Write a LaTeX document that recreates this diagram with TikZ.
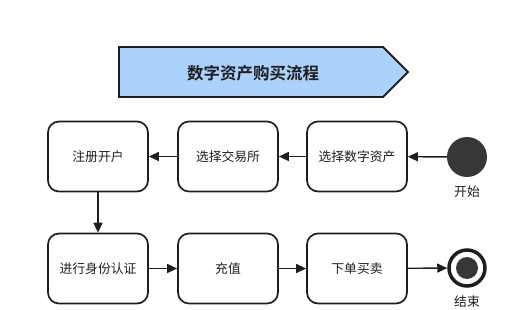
\documentclass[tikz,border=0pt]{standalone}
\usepackage{fontspec}
\setmainfont{Noto Sans CJK SC}[BoldFont={Noto Sans CJK SC Bold}]
\usetikzlibrary{arrows.meta}
\definecolor{bannerfill}{RGB}{170,210,252}
\definecolor{dk}{RGB}{30,30,30}
\definecolor{dot}{RGB}{55,55,55}
\tikzset{
  stepbox/.style={draw=dk, line width=1.7pt, rounded corners=11pt, minimum width=100pt, minimum height=70pt, inner sep=0pt, font=\fontsize{12.8}{14}\selectfont, text=dk},
  flow/.style={draw=dk, line width=1.4pt, -{Triangle[length=10pt,width=9pt]}},
  lbl/.style={font=\fontsize{12.8}{14}\selectfont, text=dk},
}
\begin{document}
\begin{tikzpicture}[x=1pt,y=-1pt]
\useasboundingbox (0,0) rectangle (514,310);
% banner
\draw[draw=dk, line width=1.8pt, fill=bannerfill] (119,47) -- (383,47) -- (408,72) -- (383,97) -- (119,97) -- cycle;
\node[font=\fontsize{16.5}{18}\bfseries, text=dk] (title) at (253,73) {数字资产购买流程};
% top row
\node[stepbox] (reg) at (98,156.5) {注册开户};
\node[stepbox] (exch) at (228,156.5) {选择交易所};
\node[stepbox] (asset) at (357,156.5) {选择数字资产};
\node[circle, fill=dot, minimum size=40pt, inner sep=0pt] (start) at (467,157) {};
\node[lbl] (startl) at (467,192) {开始};
% bottom row
\node[stepbox] (kyc) at (98,268.5) {进行身份认证};
\node[stepbox] (dep) at (228,268.5) {充值};
\node[stepbox] (trade) at (357,268.5) {下单买卖};
\node[circle, draw=dk, line width=3.5pt, fill=white, minimum size=36pt, inner sep=0pt] (end) at (467,268) {};
\node[circle, fill=dot, minimum size=22pt, inner sep=0pt] (endin) at (end.center) {};
\node[lbl] (endl) at (467,302) {结束};
% connectors
\draw[flow] (start) -- (asset);
\draw[flow] (asset) -- (exch);
\draw[flow] (exch) -- (reg);
\draw[flow] (reg) -- (kyc);
\draw[flow] (kyc) -- (dep);
\draw[flow] (dep) -- (trade);
\draw[flow] (trade) -- (end);
\end{tikzpicture}
\end{document}
